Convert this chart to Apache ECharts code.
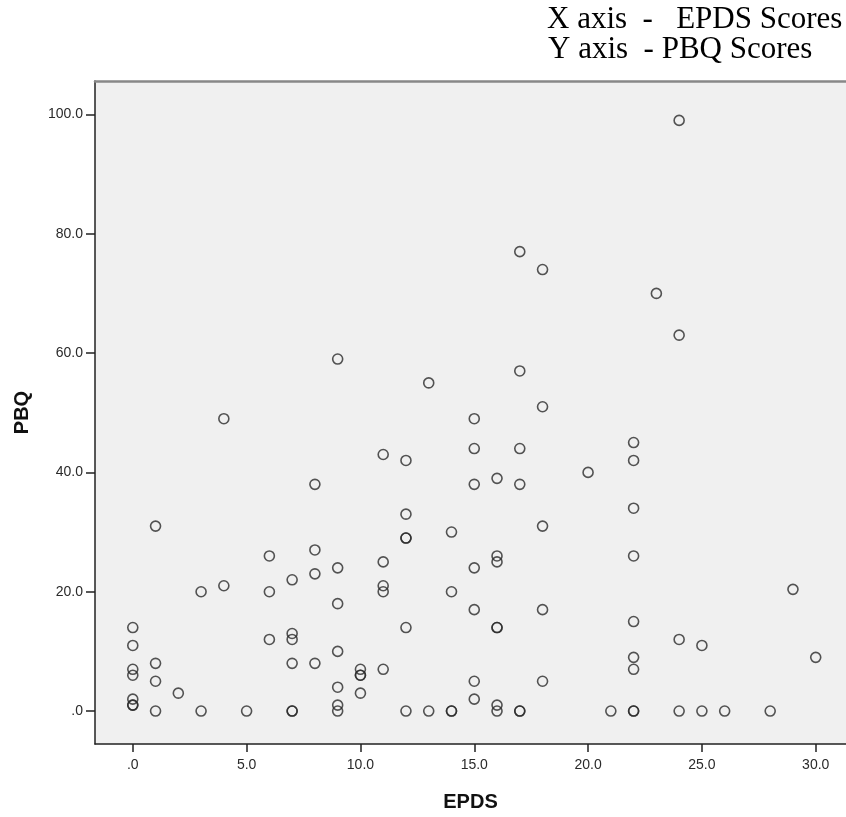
<!DOCTYPE html>
<html>
<head>
<meta charset="utf-8">
<script src="https://cdn.jsdelivr.net/npm/echarts@6.0.0/dist/echarts.min.js"></script>
<style>
  html, body { margin: 0; padding: 0; background: #fff; }
  #chart { width: 846px; height: 817px; }
</style>
</head>
<body>
<div id="chart"></div>
<script>
// EPDS / PBQ pairs
const epds = [0,0,0,0,0,0,0, 1,1,1,1, 2, 3,3, 4,4, 5, 6,6,6, 7,7,7,7,7,7, 8,8,8,8,
  9,9,9,9,9,9,9, 10,10,10,10, 11,11,11,11,11, 12,12,12,12,12,12, 13,13, 14,14,14,14,
  15,15,15,15,15,15,15, 16,16,16,16,16,16,16, 17,17,17,17,17,17, 18,18,18,18,18,
  20, 21, 22,22,22,22,22,22,22,22,22, 23, 24,24,24,24, 25,25, 26, 28, 29, 30];
const pbq = [14,11,7,6,2,1,1, 31,8,5,0, 3, 20,0, 49,21, 0, 26,20,12, 22,13,12,8,0,0, 38,27,23,8,
  59,24,18,10,4,1,0, 7,6,6,3, 43,25,21,20,7, 42,33,29,29,14,0, 55,0, 30,20,0,0,
  49,44,38,24,17,5,2, 39,26,25,14,14,1,0, 77,57,44,38,0,0, 74,51,31,17,5,
  40, 0, 45,42,34,26,15,9,7,0,0, 70, 99,63,12,0, 11,0, 0, 0, 20.4, 9];

const xTicks = [0, 5, 10, 15, 20, 25, 30];
const yTicks = [0, 20, 40, 60, 80, 100];

const points = epds.map((x, i) => [x, pbq[i]]);

const fmt = (v) => (v === 0 ? ".0" : v.toFixed(1));
const axisColor = "#222";

const myChart = echarts.init(document.getElementById("chart"));
myChart.setOption({
  animation: false,
  graphic: [
    {
      type: "text", left: 547, top: 4,
      style: { text: "X axis  -   EPDS Scores", font: "31px 'Liberation Serif'", fill: "#000" }
    },
    {
      type: "text", left: 548, top: 34,
      style: { text: "Y axis  - PBQ Scores", font: "31px 'Liberation Serif'", fill: "#000" }
    }
  ],
  grid: {
    left: 95, top: 81, right: 0, bottom: 73,
    show: true, backgroundColor: "#f0f0f0", borderWidth: 0
  },
  xAxis: [
    {
      type: "value", position: "bottom", min: -1.66, max: 31.33,
      name: "EPDS", nameLocation: "middle", nameGap: 48,
      nameTextStyle: { fontFamily: "Liberation Sans", fontWeight: "bold", fontSize: 20, color: "#111" },
      axisLine: { show: true, onZero: false, lineStyle: { color: axisColor, width: 1.5 } },
      axisTick: { show: true, customValues: xTicks, length: 8, lineStyle: { color: axisColor, width: 1.5 } },
      axisLabel: { customValues: xTicks, formatter: fmt, fontFamily: "Liberation Sans", fontSize: 14, color: "#2a2a2a", margin: 14 },
      splitLine: { show: false }
    },
    {
      type: "value", position: "top", min: -1.66, max: 31.33,
      axisLine: { show: true, onZero: false, lineStyle: { color: "#888", width: 2.5 } },
      axisTick: { show: false },
      axisLabel: { show: false },
      splitLine: { show: false }
    }
  ],
  yAxis: {
    type: "value", min: -5.52, max: 105.6,
    name: "PBQ", nameLocation: "middle", nameGap: 63, nameRotate: 90,
    nameTextStyle: { fontFamily: "Liberation Sans", fontWeight: "bold", fontSize: 20, color: "#111" },
    axisLine: { show: true, onZero: false, lineStyle: { color: axisColor, width: 1.5 } },
    axisTick: { show: true, customValues: yTicks, length: 9, lineStyle: { color: axisColor, width: 1.5 } },
    axisLabel: { customValues: yTicks, formatter: fmt, fontFamily: "Liberation Sans", fontSize: 14, color: "#2a2a2a", margin: 12 },
    splitLine: { show: false }
  },
  series: [
    {
      type: "scatter",
      xAxisIndex: 0,
      data: points,
      symbol: "circle",
      symbolSize: 10,
      itemStyle: { color: "rgba(0,0,0,0)", borderColor: "#2a2a2a", borderWidth: 1.6 },
      emphasis: { disabled: true }
    }
  ]
});
</script>
</body>
</html>
